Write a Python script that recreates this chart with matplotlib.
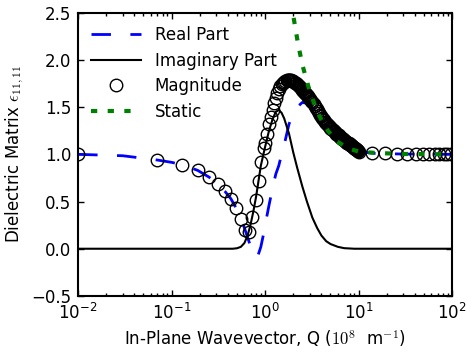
import numpy as np
import matplotlib
matplotlib.use("Agg")
import matplotlib.pyplot as plt

plt.rcParams['font.family'] = 'DejaVu Sans'
plt.rcParams['mathtext.fontset'] = 'cm'
plt.rcParams['font.size'] = 12

# real part of eps_11,11
q_re = [0.01, 0.03, 0.07, 0.1, 0.13, 0.19, 0.25, 0.31, 0.37, 0.43, 0.49, 0.55,
        0.61, 0.67, 0.72, 0.77, 0.8, 0.84, 0.9, 0.95, 1.0, 1.1, 1.2, 1.3, 1.4,
        1.5, 1.6, 1.8, 2.0, 2.2, 2.5, 2.8, 3.0, 3.5, 4.0, 4.5, 5.0, 6.0, 7.0,
        8.0, 10.0, 15.0, 30.0, 100.0]
eps_re = [1.0, 0.985, 0.94, 0.915, 0.89, 0.83, 0.76, 0.69, 0.61, 0.53, 0.43, 0.33,
          0.2, 0.08, -0.02, -0.08, -0.09, -0.07, 0.02, 0.13, 0.25, 0.46, 0.64, 0.79, 0.88,
          1.0, 1.1, 1.32, 1.43, 1.5, 1.55, 1.54, 1.52, 1.46, 1.39, 1.32, 1.27, 1.19, 1.15,
          1.11, 1.03, 1.01, 1.003, 1.0]

# imaginary part
q_im = [0.01, 0.45, 0.5, 0.55, 0.6, 0.65, 0.7, 0.75, 0.8, 0.85, 0.9, 1.0, 1.1,
        1.2, 1.3, 1.4, 1.5, 1.6, 1.8, 2.0, 2.2, 2.5, 2.8, 3.2, 3.6, 4.0, 4.5,
        5.0, 6.0, 7.0, 9.0, 100.0]
eps_im = [0.0, 0.0, 0.005, 0.02, 0.06, 0.14, 0.26, 0.4, 0.55, 0.72, 0.88, 1.08, 1.25,
          1.37, 1.45, 1.47, 1.44, 1.38, 1.22, 1.02, 0.86, 0.66, 0.5, 0.33, 0.22, 0.14, 0.08,
          0.05, 0.02, 0.006, 0.0, 0.0]

# magnitude (open circles)
q_mag = [0.01, 0.07, 0.13, 0.19, 0.25, 0.31, 0.37, 0.43, 0.49, 0.55, 0.61, 0.67,
         0.73, 0.79, 0.85, 0.91, 0.97,
         1.0, 1.05, 1.1, 1.15, 1.2, 1.25, 1.3, 1.35, 1.4, 1.45, 1.5, 1.55, 1.6, 1.65,
         1.7, 1.75, 1.8, 1.85, 1.9, 1.95, 2.0, 2.05, 2.1, 2.15, 2.2, 2.25, 2.3, 2.35,
         2.4, 2.45, 2.5, 2.55, 2.6, 2.65, 2.7, 2.75, 2.8, 2.85, 2.9, 2.95, 3.0,
         3.1, 3.2, 3.3, 3.4, 3.5, 3.6, 3.7, 3.8, 3.9, 4.0, 4.1, 4.2, 4.3, 4.4, 4.5,
         4.6, 4.7, 4.8, 4.9, 5.0, 5.1, 5.2, 5.3, 5.4, 5.5, 5.6, 5.7, 5.8, 5.9, 6.0,
         6.1, 6.2, 6.3, 6.4, 6.5, 6.6, 6.7, 6.8, 6.9, 7.0, 7.1, 7.2, 7.3, 7.4, 7.5,
         7.6, 7.7, 7.8, 7.9, 8.0, 8.1, 8.2, 8.3, 8.4, 8.5, 8.6, 8.7, 8.8, 8.9, 9.0,
         9.1, 9.2, 9.3, 9.4, 9.5, 9.6, 9.7, 9.8, 9.9, 10.0,
         14.0, 19.0, 26.0, 33.0, 41.0, 49.0, 57.0, 65.0, 73.0, 81.0, 89.0, 97.0]
eps_mag = [1.0, 0.94, 0.89, 0.83, 0.76, 0.69, 0.61, 0.53, 0.43, 0.32, 0.2, 0.18,
           0.34, 0.52, 0.72, 0.92, 1.07,
           1.12, 1.22, 1.32, 1.40, 1.47, 1.54, 1.60, 1.65, 1.69, 1.72, 1.74, 1.76, 1.77, 1.78,
           1.785, 1.79, 1.79, 1.79, 1.785, 1.78, 1.775, 1.77, 1.76, 1.752, 1.745, 1.735, 1.725, 1.715,
           1.705, 1.695, 1.685, 1.675, 1.665, 1.655, 1.645, 1.635, 1.625, 1.615, 1.605, 1.595, 1.585,
           1.57, 1.55, 1.53, 1.51, 1.49, 1.475, 1.46, 1.44, 1.42, 1.405, 1.39, 1.375, 1.36, 1.345, 1.33,
           1.32, 1.31, 1.3, 1.29, 1.28, 1.272, 1.265, 1.257, 1.25, 1.242, 1.235, 1.228, 1.22, 1.212, 1.205,
           1.2, 1.195, 1.188, 1.18, 1.175, 1.17, 1.165, 1.16, 1.155, 1.15, 1.145, 1.14, 1.135, 1.13, 1.125,
           1.12, 1.117, 1.115, 1.11, 1.105, 1.1, 1.1, 1.095, 1.09, 1.087, 1.085, 1.08, 1.075, 1.07, 1.07,
           1.065, 1.06, 1.058, 1.055, 1.05, 1.047, 1.043, 1.04, 1.035, 1.03,
           1.015, 1.01, 1.005, 1.003, 1.002, 1.001, 1.0, 1.0, 1.0, 1.0, 1.0, 1.0]

# static limit
q_st = [1.9, 2.0, 2.25, 2.5, 2.9, 3.4, 4.0, 4.7, 5.8, 7.0, 8.5, 10.0, 15.0, 30.0, 100.0]
eps_st = [2.62, 2.47, 2.17, 1.95, 1.72, 1.52, 1.36, 1.25, 1.14, 1.09, 1.05, 1.03, 1.015, 1.004, 1.0]

fig = plt.figure(figsize=(4.68, 3.64), dpi=100)
ax = fig.add_axes([0.167, 0.187, 0.799, 0.778])

ax.plot(q_re, eps_re, color='b', lw=2, dashes=(7, 7), label='Real Part')
ax.plot(q_im, eps_im, color='k', lw=1.5, label='Imaginary Part')
ax.plot(q_mag, eps_mag, 'o', mfc='none', mec='k', mew=1, ms=9, label='Magnitude')
ax.plot(q_st, eps_st, color='g', lw=3, dashes=(1.5, 2.5), label='Static')

ax.set_xscale('log')
ax.set_xlim(1e-2, 1e2)
ax.set_ylim(-0.5, 2.5)
ax.set_yticks(np.arange(-0.5, 2.51, 0.5))
ax.tick_params(which='both', direction='in', top=True, right=True)
ax.tick_params(which='major', length=4, width=1, pad=5)
ax.tick_params(which='minor', length=2, width=1)
for s in ax.spines.values():
    s.set_linewidth(1.5)

ax.set_xlabel(r'In-Plane Wavevector, Q ($10^8$  m$^{-1}$)')
ax.set_ylabel(r'Dielectric Matrix $\epsilon_{11,11}$')

ax.legend(loc='upper left', frameon=False, numpoints=1, handlelength=3,
          labelspacing=0.45, borderaxespad=0.4, fontsize=12)

fig.savefig('out.png', dpi=100)
